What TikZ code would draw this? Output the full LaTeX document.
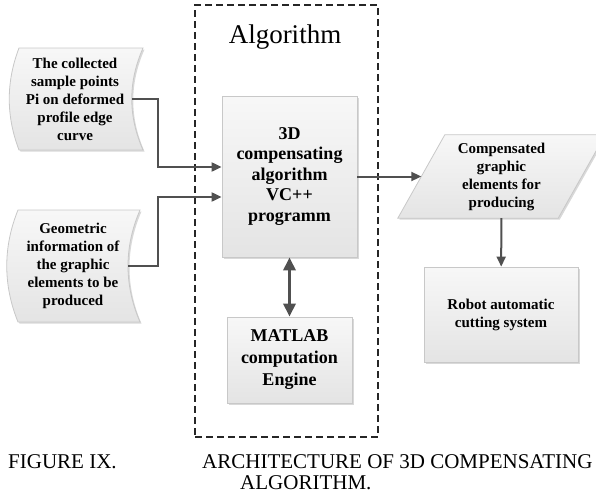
\documentclass[tikz,border=0pt]{standalone}
\usepackage{fontspec}
\setmainfont{Liberation Serif}
\usetikzlibrary{arrows.meta,shadows,backgrounds,calc}
\definecolor{linegray}{RGB}{80,80,80}
\definecolor{boxedge}{RGB}{200,200,200}
\definecolor{boxfill}{RGB}{228,228,228}

\begin{document}
\begin{tikzpicture}
[x=1pt, y=1pt,
 every node/.style={inner sep=0pt},
 shell/.style={draw=boxedge, line width=0.8pt, top color=white!97!black, bottom color=boxfill,
   drop shadow={shadow xshift=1.5pt, shadow yshift=-1.5pt, opacity=0.3}},
 box/.style={shell, rectangle, align=center, font=\bfseries\fontsize{15}{18}\selectfont},
 tapetext/.style={align=center, font=\bfseries\fontsize{15}{18}\selectfont},
 conn/.style={draw=linegray, line width=2pt},
 arrowed/.style={-{Triangle[length=10pt,width=9pt]}},
 captext/.style={anchor=base west, font=\fontsize{21}{25}\selectfont}]
\useasboundingbox (0,0) rectangle (596,-498);

% dashed frame of the algorithm part
\node (frame) [draw=black!85, line width=1.2pt, dash pattern=on 7pt off 4pt, minimum width=183pt, minimum height=432pt] at (286.5,-221) {};
\node (title) [anchor=base, font=\fontsize{27}{32}\selectfont] at (285,-43) {Algorithm};

\node (main) [box, font=\bfseries\fontsize{18}{20.5}\selectfont, minimum width=135pt, minimum height=161pt] at (289.5,-176.5) {3D\\compensating\\algorithm\\VC++\\programm};
\node (matlab) [box, font=\bfseries\fontsize{18}{22}\selectfont, minimum width=125pt, minimum height=86pt] at (289.5,-360) {MATLAB\\computation\\Engine};

% inputs and outputs
\node (in1) [tapetext, minimum width=114pt, minimum height=102pt] at (75,-99) {The collected\\sample points\\Pi on deformed\\profile edge\\curve};
\node (in2) [tapetext, minimum width=110pt, minimum height=112pt] at (73,-266) {Geometric\\information of\\the graphic\\elements to be\\produced};
\node (out) [tapetext, minimum width=160pt, minimum height=83pt] at (501.5,-176.5) {Compensated\\graphic\\elements for\\producing};
\node (robot) [box, minimum width=154pt, minimum height=95pt] at (501,-314.5) {Robot automatic\\cutting system};

\begin{scope}[on background layer]
\path[shell, shift={(in1.center)}] (-56,51) -- (68,51) .. controls (53,17) and (53,-17) .. (68,-51) -- (-56,-51) .. controls (-69,-17) and (-69,17) .. cycle;
\path[shell, shift={(in2.center)}] (-55,56) -- (67,56) .. controls (51,19) and (51,-19) .. (67,-56) -- (-55,-56) .. controls (-70,-19) and (-70,19) .. cycle;
\path[shell] ($(out.south west)+(-23.5,0)$) -- ($(out.south east)+(-23.5,0)$) -- ($(out.north east)+(23.5,0)$) -- ($(out.north west)+(23.5,0)$) -- cycle;
\end{scope}

\draw[conn, arrowed] (in1.east) -- ++(26,0) |- ($(main.west)+(0,9.5)$);
\draw[conn, arrowed] (in2.east) -- ++(30,0) |- ($(main.west)+(0,-20.5)$);
\draw[conn, arrowed] (main) -- (out);
\draw[conn, arrowed] (out) -- (robot);
\draw[conn, line width=3.5pt, {Triangle[length=13pt,width=12pt]}-{Triangle[length=13pt,width=12pt]}] (main) -- (matlab);

% caption
\node (fig) [captext] at (8,-468) {FIGURE IX.};
\node (cap1) [captext] at (202,-468) {ARCHITECTURE OF 3D COMPENSATING};
\node (cap2) [captext] at (240,-489) {ALGORITHM.};
\end{tikzpicture}
\end{document}
